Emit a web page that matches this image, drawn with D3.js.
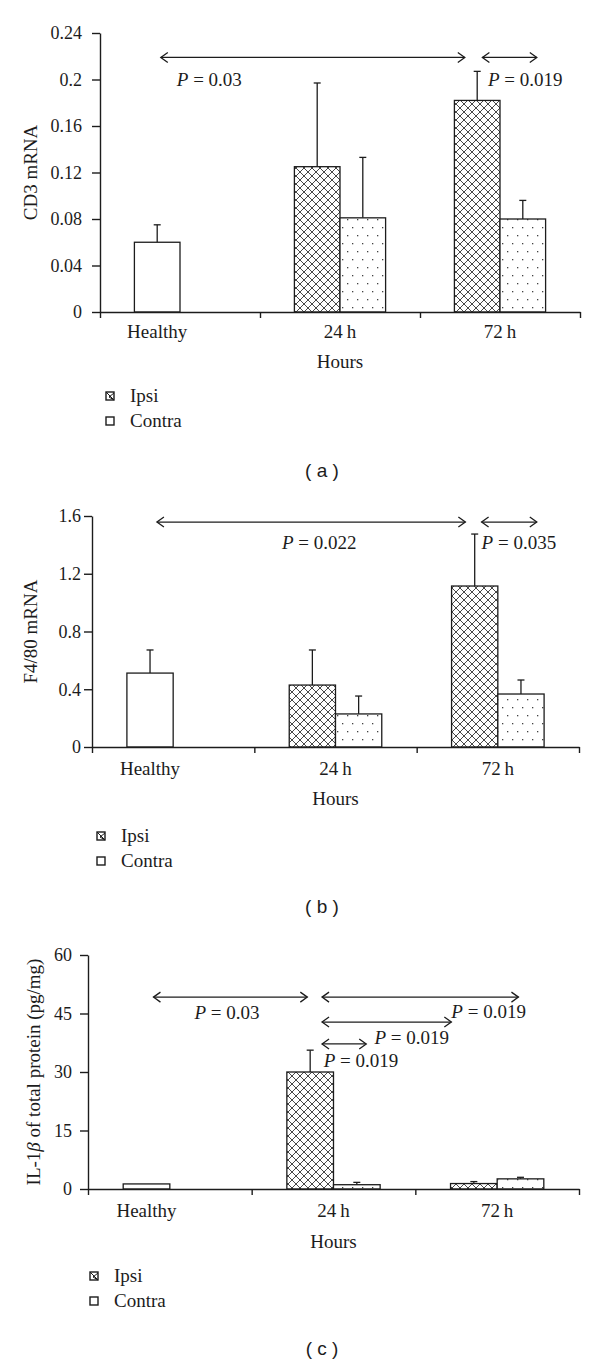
<!DOCTYPE html>
<html>
<head>
<meta charset="utf-8">
<script src="https://cdn.jsdelivr.net/npm/d3@7"></script>
<style>
  html, body { margin: 0; padding: 0; background: #fff; }
  svg { display: block; }
</style>
</head>
<body>
<script>
// ---------------- DATA ----------------
const groups = ["Healthy", "24\u2009h", "72\u2009h"];
const timeGroups = ["24\u2009h", "72\u2009h"];
const seriesNames = ["Ipsi", "Contra"];

// (a) CD3 mRNA
const cd3Healthy = [0.060];
const cd3HealthySD = [0.015];
const cd3Ipsi = [0.125, 0.182];
const cd3IpsiSD = [0.072, 0.025];
const cd3Contra = [0.081, 0.080];
const cd3ContraSD = [0.052, 0.016];
const cd3Ticks = [0, 0.04, 0.08, 0.12, 0.16, 0.2, 0.24];
const cd3TickLabels = ["0", "0.04", "0.08", "0.12", "0.16", "0.2", "0.24"];
// arrows: [from (group units), to (group units), y value]
const cd3Arrows = [[0.38, 2.28, 0.219], [2.39, 2.73, 0.219]];
// p labels: [x start (group units), y value, text]
const cd3P = [[0.48, 0.194, "0.03"], [2.425, 0.194, "0.019"]];

// (b) F4/80 mRNA
const f480Healthy = [0.512];
const f480HealthySD = [0.16];
const f480Ipsi = [0.429, 1.115];
const f480IpsiSD = [0.243, 0.36];
const f480Contra = [0.229, 0.367];
const f480ContraSD = [0.124, 0.097];
const f480Ticks = [0, 0.4, 0.8, 1.2, 1.6];
const f480TickLabels = ["0", "0.4", "0.8", "1.2", "1.6"];
const f480Arrows = [[0.40, 2.30, 1.558], [2.40, 2.74, 1.558]];
const f480P = [[1.17, 1.37, "0.022"], [2.40, 1.37, "0.035"]];

// (c) IL-1beta
const il1bHealthy = [1.3];
const il1bHealthySD = [0];
const il1bIpsi = [30.0, 1.4];
const il1bIpsiSD = [5.6, 0.5];
const il1bContra = [1.1, 2.6];
const il1bContraSD = [0.6, 0.4];
const il1bTicks = [0, 15, 30, 45, 60];
const il1bTickLabels = ["0", "15", "30", "45", "60"];
const il1bArrows = [[0.40, 1.34, 49.2], [1.43, 2.63, 49.2], [1.43, 2.22, 42.8], [1.43, 1.70, 37.2]];
const il1bP = [[0.65, 43.6, "0.03"], [2.22, 43.8, "0.019"], [1.75, 37.2, "0.019"], [1.44, 31.3, "0.019"]];

// ---------------- DRAWING ----------------
const INK = "#1c1c1c";
const SERIF = "'Liberation Serif', 'DejaVu Serif', serif";
const FS = 19;
const TFS = 18;

const svg = d3.select("body").append("svg")
  .attr("width", 600).attr("height", 1365);

const defs = svg.append("defs");
const cross = defs.append("pattern").attr("id", "cross")
  .attr("patternUnits", "userSpaceOnUse").attr("width", 8).attr("height", 8);
cross.append("rect").attr("width", 8).attr("height", 8).attr("fill", "#fff");
cross.append("path").attr("d", "M0,0L8,8M8,0L0,8M-1,7L1,9M7,-1L9,1M-1,1L1,-1M7,9L9,7")
  .attr("stroke", "#333").attr("stroke-width", 0.9).attr("fill", "none");

const dots = defs.append("pattern").attr("id", "dots")
  .attr("patternUnits", "userSpaceOnUse").attr("width", 10).attr("height", 16);
dots.append("rect").attr("width", 10).attr("height", 16).attr("fill", "#fff");
dots.append("rect").attr("x", 2).attr("y", 3).attr("width", 1.3).attr("height", 1.3).attr("fill", "#444");
dots.append("rect").attr("x", 7).attr("y", 11).attr("width", 1.3).attr("height", 1.3).attr("fill", "#444");

function drawPanel(L, healthy, healthySD, ipsi, ipsiSD, contra, contraSD,
                   ticks, tickLabels, arrows, pvals) {
  const g = svg.append("g");
  const x = d3.scaleBand().domain(groups).range([L.left, L.right]).padding(0);
  const u = d3.scaleLinear().domain([0, 3]).range([L.left, L.right]);
  const y = d3.scaleLinear().domain([0, L.yMax]).range([L.y0, L.yTop]);
  const bw = x.bandwidth() * 0.285;
  const mid = gname => x(gname) + x.bandwidth() / 2;

  const bars = [];
  bars.push({ g: "Healthy", x0: mid("Healthy") - bw, v: healthy[0], sd: healthySD[0], fill: "#fff" });
  timeGroups.forEach((t, i) => {
    bars.push({ g: t, x0: mid(t) - bw, v: ipsi[i], sd: ipsiSD[i], fill: "url(#cross)" });
    bars.push({ g: t, x0: mid(t), v: contra[i], sd: contraSD[i], fill: "url(#dots)" });
  });

  const eb = g.append("g").attr("stroke", INK).attr("stroke-width", 1.3);
  bars.filter(d => d.sd > 0).forEach(d => {
    const cx = d.x0 + bw / 2;
    eb.append("line").attr("x1", cx).attr("x2", cx).attr("y1", y(d.v)).attr("y2", y(d.v + d.sd));
    eb.append("line").attr("x1", cx - 3.5).attr("x2", cx + 3.5).attr("y1", y(d.v + d.sd)).attr("y2", y(d.v + d.sd));
  });

  g.append("g").selectAll("rect").data(bars).join("rect")
    .attr("x", d => d.x0).attr("width", bw)
    .attr("y", d => y(d.v)).attr("height", d => y(0) - y(d.v))
    .attr("fill", d => d.fill).attr("stroke", INK).attr("stroke-width", 1.3);

  const ya = g.append("g").attr("transform", `translate(${L.left},0)`)
    .call(d3.axisLeft(y).tickValues(ticks).tickFormat((d, i) => tickLabels[i])
      .tickSize(8).tickSizeOuter(0).tickPadding(L.pad));
  ya.select(".domain").attr("stroke", INK).attr("stroke-width", 1.4);
  ya.selectAll(".tick line").attr("stroke", INK).attr("stroke-width", 1.4);
  ya.selectAll(".tick text").attr("font-family", SERIF).attr("font-size", TFS).attr("fill", INK);

  const xa = g.append("g").attr("transform", `translate(0,${L.y0})`)
    .call(d3.axisBottom(u).tickValues([0, 1, 2, 3]).tickFormat("").tickSize(6).tickSizeOuter(0));
  xa.select(".domain").attr("stroke", INK).attr("stroke-width", 1.4);
  xa.selectAll(".tick line").attr("stroke", INK).attr("stroke-width", 1.4);

  const catX = [mid("Healthy") - bw / 2, mid(groups[1]), mid(groups[2])];
  g.append("g").selectAll("text").data(groups).join("text")
    .attr("x", (d, i) => catX[i]).attr("y", L.catY)
    .attr("text-anchor", "middle").attr("font-family", SERIF).attr("font-size", FS).attr("fill", INK)
    .text(d => d);

  g.append("text").attr("x", mid(groups[1])).attr("y", L.hoursY)
    .attr("text-anchor", "middle").attr("font-family", SERIF).attr("font-size", FS).attr("fill", INK)
    .text("Hours");

  const t = g.append("text")
    .attr("transform", `translate(${L.titleX},${(L.y0 + L.yTop) / 2}) rotate(-90)`)
    .attr("text-anchor", "middle").attr("dy", "0.35em")
    .attr("font-family", SERIF).attr("font-size", FS).attr("fill", INK);
  L.title.forEach(p => t.append("tspan").attr("font-style", p[1] ? "italic" : null).text(p[0]));

  const ag = g.append("g").attr("stroke", INK).attr("stroke-width", 1.3).attr("fill", "none");
  arrows.forEach(a => {
    const x1 = u(a[0]), x2 = u(a[1]), yy = y(a[2]);
    ag.append("line").attr("x1", x1).attr("x2", x2).attr("y1", yy).attr("y2", yy);
    ag.append("path").attr("d", `M${x1 + 7},${yy - 5}L${x1},${yy}L${x1 + 7},${yy + 5}`);
    ag.append("path").attr("d", `M${x2 - 7},${yy - 5}L${x2},${yy}L${x2 - 7},${yy + 5}`);
  });

  pvals.forEach(p => {
    const tx = g.append("text").attr("x", u(p[0])).attr("y", y(p[1]))
      .attr("font-family", SERIF).attr("font-size", FS).attr("fill", INK)
      .attr("xml:space", "preserve");
    tx.append("tspan").attr("font-style", "italic").text("P");
    tx.append("tspan").text(" = " + p[2]);
  });

  const lg = g.append("g");
  seriesNames.forEach((s, i) => {
    const ly = L.legY + i * 25;
    const sx = L.legSq;
    lg.append("rect").attr("x", sx).attr("y", ly - 10).attr("width", 8).attr("height", 8)
      .attr("fill", "#fff").attr("stroke", INK).attr("stroke-width", 1.4);
    if (i === 0) {
      lg.append("path").attr("d", `M${sx},${ly - 10}L${sx + 8},${ly - 2}M${sx + 8},${ly - 9}L${sx + 3},${ly - 5}L${sx + 8},${ly - 2}`)
        .attr("stroke", INK).attr("stroke-width", 1).attr("fill", "none");
    }
    lg.append("text").attr("x", L.legText).attr("y", ly)
      .attr("font-family", SERIF).attr("font-size", FS).attr("fill", INK).text(s);
  });

  g.append("text").attr("x", 322).attr("y", L.letterY).attr("text-anchor", "middle")
    .attr("font-family", "'Liberation Sans', Arial, sans-serif").attr("font-size", 19).attr("fill", INK)
    .attr("xml:space", "preserve")
    .text(`( ${L.letter} )`);
}

drawPanel({ left: 100, right: 580, y0: 312, yTop: 33, yMax: 0.24, pad: 10, titleX: 30,
            title: [["CD3 mRNA", false]], catY: 338, hoursY: 368,
            legSq: 106, legText: 130, legY: 402, letterY: 477, letter: "a" },
  cd3Healthy, cd3HealthySD, cd3Ipsi, cd3IpsiSD, cd3Contra, cd3ContraSD,
  cd3Ticks, cd3TickLabels, cd3Arrows, cd3P);

drawPanel({ left: 92, right: 579, y0: 747, yTop: 516, yMax: 1.6, pad: 3, titleX: 30,
            title: [["F4/80 mRNA", false]], catY: 775, hoursY: 805,
            legSq: 97, legText: 121, legY: 842, letterY: 913, letter: "b" },
  f480Healthy, f480HealthySD, f480Ipsi, f480IpsiSD, f480Contra, f480ContraSD,
  f480Ticks, f480TickLabels, f480Arrows, f480P);

drawPanel({ left: 88, right: 579, y0: 1189, yTop: 955, yMax: 60, pad: 8, titleX: 33,
            title: [["IL-1", false], ["\u03B2", true], [" of total protein (pg/mg)", false]],
            catY: 1217, hoursY: 1248,
            legSq: 90, legText: 114, legY: 1282, letterY: 1355, letter: "c" },
  il1bHealthy, il1bHealthySD, il1bIpsi, il1bIpsiSD, il1bContra, il1bContraSD,
  il1bTicks, il1bTickLabels, il1bArrows, il1bP);
</script>
</body>
</html>
